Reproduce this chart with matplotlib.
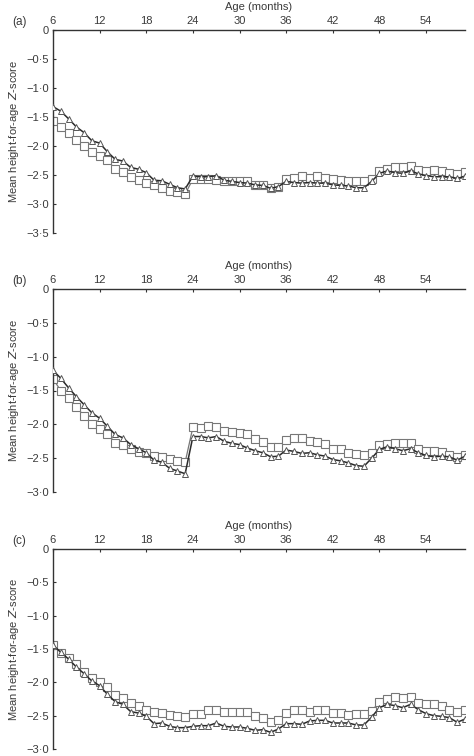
import matplotlib
matplotlib.use("Agg")
import matplotlib.pyplot as plt
import numpy as np

plt.rcParams['font.family'] = ['Liberation Sans', 'DejaVu Sans']

months = list(range(6, 60))

a_tri = [-1.32, -1.40, -1.53, -1.67, -1.77, -1.91, -1.95, -2.10, -2.23, -2.26,
         -2.37, -2.40, -2.46, -2.59, -2.60, -2.66, -2.72, -2.74, -2.52, -2.53,
         -2.53, -2.51, -2.59, -2.61, -2.63, -2.64, -2.67, -2.68, -2.73, -2.70,
         -2.61, -2.63, -2.64, -2.63, -2.64, -2.64, -2.67, -2.68, -2.69, -2.72,
         -2.72, -2.61, -2.47, -2.43, -2.46, -2.47, -2.43, -2.48, -2.51, -2.53,
         -2.53, -2.53, -2.56, -2.52]
a_sq = [-1.57, -1.68, -1.77, -1.89, -2.00, -2.11, -2.18, -2.24, -2.40, -2.44,
        -2.54, -2.59, -2.63, -2.68, -2.72, -2.77, -2.80, -2.83, -2.57, -2.57,
        -2.57, -2.59, -2.60, -2.60, -2.61, -2.61, -2.67, -2.67, -2.73, -2.70,
        -2.57, -2.55, -2.52, -2.55, -2.52, -2.55, -2.57, -2.59, -2.61, -2.60,
        -2.61, -2.57, -2.43, -2.39, -2.36, -2.36, -2.34, -2.41, -2.43, -2.41,
        -2.43, -2.47, -2.48, -2.45]

b_tri = [-1.20, -1.32, -1.46, -1.59, -1.71, -1.83, -1.91, -2.03, -2.15, -2.20,
         -2.30, -2.36, -2.42, -2.53, -2.56, -2.65, -2.69, -2.73, -2.18, -2.18,
         -2.20, -2.18, -2.25, -2.28, -2.30, -2.35, -2.39, -2.42, -2.48, -2.47,
         -2.38, -2.40, -2.43, -2.42, -2.45, -2.47, -2.52, -2.54, -2.57, -2.61,
         -2.62, -2.50, -2.37, -2.33, -2.36, -2.39, -2.36, -2.42, -2.46, -2.48,
         -2.47, -2.48, -2.53, -2.47]
b_sq = [-1.33, -1.50, -1.61, -1.75, -1.87, -2.00, -2.07, -2.14, -2.27, -2.30,
        -2.36, -2.41, -2.43, -2.47, -2.48, -2.51, -2.54, -2.56, -2.04, -2.05,
        -2.03, -2.04, -2.10, -2.11, -2.13, -2.15, -2.22, -2.26, -2.33, -2.33,
        -2.23, -2.20, -2.20, -2.25, -2.26, -2.29, -2.36, -2.37, -2.43, -2.44,
        -2.46, -2.43, -2.30, -2.29, -2.27, -2.28, -2.28, -2.36, -2.40, -2.40,
        -2.41, -2.46, -2.48, -2.46]

c_tri = [-1.44, -1.55, -1.65, -1.77, -1.87, -1.98, -2.05, -2.18, -2.29, -2.33,
         -2.44, -2.46, -2.51, -2.62, -2.61, -2.66, -2.68, -2.68, -2.66, -2.65,
         -2.65, -2.61, -2.66, -2.67, -2.67, -2.69, -2.72, -2.71, -2.75, -2.70,
         -2.62, -2.62, -2.63, -2.58, -2.57, -2.57, -2.61, -2.61, -2.61, -2.64,
         -2.64, -2.52, -2.38, -2.33, -2.35, -2.38, -2.33, -2.41, -2.47, -2.50,
         -2.51, -2.53, -2.60, -2.55]
c_sq = [-1.44, -1.56, -1.64, -1.72, -1.84, -1.93, -2.00, -2.07, -2.19, -2.23,
        -2.31, -2.36, -2.41, -2.44, -2.46, -2.49, -2.51, -2.52, -2.47, -2.47,
        -2.42, -2.42, -2.45, -2.44, -2.44, -2.45, -2.51, -2.54, -2.59, -2.57,
        -2.46, -2.42, -2.41, -2.44, -2.41, -2.42, -2.46, -2.46, -2.49, -2.47,
        -2.47, -2.43, -2.29, -2.25, -2.22, -2.23, -2.22, -2.31, -2.33, -2.33,
        -2.36, -2.42, -2.44, -2.42]

panel_labels = ['(a)', '(b)', '(c)']
x_ticks = [6, 12, 18, 24, 30, 36, 42, 48, 54]
y_mins = [-3.5, -3.0, -3.0]
x_label = 'Age (months)'
y_label = 'Mean height-for-age $\\it{Z}$-score'

panels = [(a_tri, a_sq), (b_tri, b_sq), (c_tri, c_sq)]

fig = plt.figure(figsize=(4.74, 7.56), dpi=100)
W, H = 474, 756
left, right = 53, 465
tops = [30, 289, 549]
heights = [203, 203, 200]

def fmt(v):
    if abs(v) < 1e-9:
        return '0'
    s = '%.1f' % v
    return s.replace('-', '\u2212').replace('.', '\u00b7')

for i, (tri, sq) in enumerate(panels):
    top = tops[i]
    ph = heights[i]
    ax = fig.add_axes([left / W, 1 - (top + ph) / H, (right - left) / W, ph / H])
    ax.plot(months, sq, color='#777777', lw=0.9, marker='s', ms=5.2,
            mfc='white', mec='#777777', mew=0.8, zorder=2)
    ax.plot(months, tri, color='#2a2a2a', lw=1.1, marker='^', ms=3.8,
            mfc='white', mec='#555555', mew=0.7, zorder=3)
    ax.set_xlim(6, 59)
    ax.set_ylim(y_mins[i], 0)
    ax.xaxis.tick_top()
    ax.xaxis.set_label_position('top')
    ax.set_xticks(x_ticks)
    yt = np.arange(0, y_mins[i] - 0.01, -0.5)
    ax.set_yticks(yt)
    ax.set_yticklabels([fmt(v) for v in yt])
    ax.tick_params(axis='both', direction='in', length=2.5, width=0.8,
                   color='#333333', labelsize=8, labelcolor='#3a3a3a', pad=3)
    for s in ['right', 'bottom']:
        ax.spines[s].set_visible(False)
    for s in ['left', 'top']:
        ax.spines[s].set_color('#333333')
        ax.spines[s].set_linewidth(1.0)
    ax.set_xlabel(x_label, fontsize=8, color='#3a3a3a', labelpad=4)
    ax.set_ylabel(y_label, fontsize=8, color='#3a3a3a', labelpad=4)
    ax.text(12 / W, 1 - (top - 8) / H, panel_labels[i], transform=fig.transFigure,
            fontsize=8.5, color='#3a3a3a', ha='left', va='center')

fig.savefig('out.png', dpi=100)
